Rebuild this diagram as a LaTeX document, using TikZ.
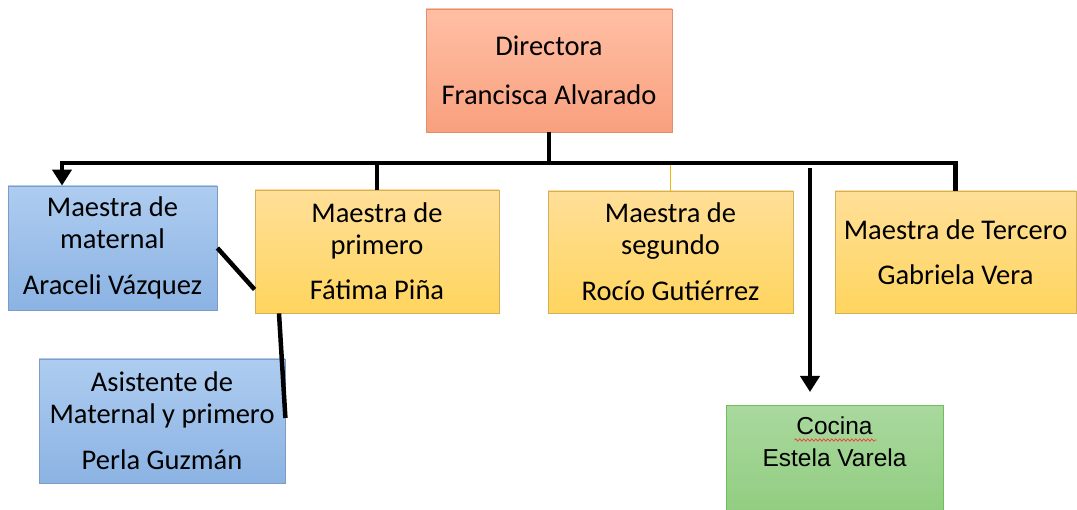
\documentclass[tikz,border=0pt]{standalone}
\usepackage{fontspec}
\setmainfont{Carlito}
\newfontfamily\arialfont{Liberation Sans}
\usetikzlibrary{arrows.meta,decorations.pathmorphing}

\definecolor{dirtop}{HTML}{FFBFA5}
\definecolor{dirbot}{HTML}{F9A07E}
\definecolor{dirline}{HTML}{E0906E}
\definecolor{bluetop}{HTML}{AECCF0}
\definecolor{bluebot}{HTML}{8BB3E3}
\definecolor{blueline}{HTML}{7D9BC4}
\definecolor{yeltop}{HTML}{FFDF98}
\definecolor{yelbot}{HTML}{FFD55E}
\definecolor{yelline}{HTML}{D4AF5A}
\definecolor{grntop}{HTML}{A9D89E}
\definecolor{grnbot}{HTML}{8CCB7A}
\definecolor{grnline}{HTML}{6EBF5A}
\definecolor{thinline}{HTML}{F2B600}

\tikzset{
  box/.style={rectangle, line width=0.8pt, align=center, inner xsep=2pt,
    font=\fontsize{28.5}{32}\selectfont, text=black},
  dirbox/.style={box, draw=dirline, top color=dirtop, bottom color=dirbot},
  bluebox/.style={box, draw=blueline, top color=bluetop, bottom color=bluebot},
  yelbox/.style={box, draw=yelline, top color=yeltop, bottom color=yelbot},
  grnbox/.style={rectangle, line width=0.8pt, draw=grnline, top color=grntop, bottom color=grnbot},
  conn/.style={line width=4.5pt},
  tip/.style={-{Triangle[width=19pt,length=16pt]}},
}

\begin{document}
\begin{tikzpicture}[x=1pt,y=-1pt]
  \clip (0,0) rectangle (1077,510);
  \node(Dir)[dirbox, minimum width=246pt, minimum height=123pt] at (549,70.5) {Directora\\[17pt]Francisca Alvarado};
  \node(Mat)[bluebox, minimum width=209pt, minimum height=124pt] at (112.5,248) {Maestra de\\maternal\\[14pt]Araceli Vázquez};
  \node(Pri)[yelbox, minimum width=244pt, minimum height=123pt] at (377,251.5) {Maestra de\\primero\\[13pt]Fátima Piña};
  \node(Seg)[yelbox, minimum width=245pt, minimum height=122pt] at (670.5,252) {Maestra de\\segundo\\[14pt]Rocío Gutiérrez};
  \node(Ter)[yelbox, minimum width=241pt, minimum height=122pt] at (955.5,252) {Maestra de Tercero\\[13pt]Gabriela Vera};
  \node(Asi)[bluebox, minimum width=246pt, minimum height=124pt] at (162,421) {Asistente de\\Maternal y primero\\[14pt]Perla Guzmán};
  \node(Coc)[grnbox, minimum width=217pt, minimum height=130pt, anchor=north] at (834.5,405) {};
  \node(CocTxt)[anchor=north, inner sep=0pt, align=center, text=black,
    font=\arialfont\fontsize{24.5}{32}\selectfont] at ([yshift=-12pt]Coc.north) {Cocina\\Estela Varela};
  \draw[red!80, line width=0.7pt, decorate, decoration={snake, amplitude=1.1pt, segment length=4pt}]
    ([xshift=-40pt,yshift=-35pt]Coc.north) -- ([xshift=42pt,yshift=-35pt]Coc.north);

  \coordinate(Bus) at (549,163);
  \coordinate(CocTop) at (810,168);
  \draw[thinline, line width=1.3pt] (Bus) -| (Seg.north);
  \draw[conn] (Dir.south) -- (Bus);
  \draw[conn,tip] (Bus) -| ([xshift=-50.5pt]Mat.north);
  \draw[conn] (Bus) -| (Pri.north);
  \draw[conn] (Bus) -| (Ter.north);
  \draw[conn,tip] (CocTop) -- ([xshift=-24.5pt,yshift=13pt]Coc.north);
  \draw[conn] (Mat.east) -- ([yshift=-38pt]Pri.west);
  \draw[conn] ([xshift=-98pt]Pri.south) -- ([yshift=3pt]Asi.east);
\end{tikzpicture}
\end{document}
